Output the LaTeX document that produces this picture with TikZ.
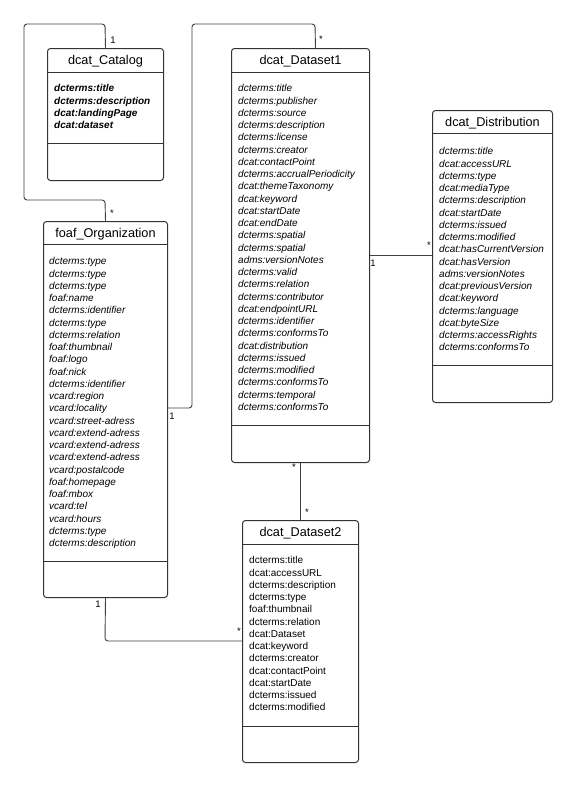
\documentclass[tikz,border=0pt]{standalone}
\usepackage{fontspec}
\setmainfont{Liberation Sans}
\usetikzlibrary{positioning,calc}

\begin{document}
\begin{tikzpicture}[x=1pt, y=-1pt,
	classbox/.style={draw=black!80, line width=1pt, rounded corners=3pt, anchor=north west, inner sep=0pt},
	classline/.style={draw=black!80, line width=1pt},
	classtitle/.style={font=\fontsize{12.7}{15}\selectfont, anchor=base, inner sep=0pt},
	attrs/.style={font=\fontsize{10}{12.25}\selectfont\itshape, align=left, anchor=north west, inner sep=0pt},
	mult/.style={font=\fontsize{9.5}{10}\selectfont, inner sep=0pt},
	link/.style={draw=black!75, line width=0.9pt, rounded corners=3pt}]

	\fill[white] (0,0) rectangle (582,787);
	\useasboundingbox (0,0) rectangle (582,787);

	% classes
	\node[classbox, minimum width=116, minimum height=132] (catalog) at (47,48) {};
	\draw[classline] ($(catalog.north west)+(0,24)$) -- ($(catalog.north east)+(0,24)$);
	\draw[classline] (47,143) -- (163,143);
	\node[classtitle] (catalogname) at ($(catalog.north)+(0,16.5)$) {dcat\_Catalog};
	\node[attrs, font=\fontsize{10}{12.25}\selectfont\itshape\bfseries] (catalogattrs) at (54,84.5) {dcterms:title\\dcterms:description\\dcat:landingPage\\dcat:dataset};

	\node[classbox, minimum width=138, minimum height=414] (dataset1) at (231,48) {};
	\draw[classline] ($(dataset1.north west)+(0,24)$) -- ($(dataset1.north east)+(0,24)$);
	\draw[classline] (231,425) -- (369,425);
	\node[classtitle] (dataset1name) at ($(dataset1.north)+(0,16.5)$) {dcat\_Dataset1};
	\node[attrs] (dataset1attrs) at (238,84.5) {dcterms:title\\dcterms:publisher\\dcterms:source\\dcterms:description\\dcterms:license\\dcterms:creator\\dcat:contactPoint\\dcterms:accrualPeriodicity\\dcat:themeTaxonomy\\dcat:keyword\\dcat:startDate\\dcat:endDate\\dcterms:spatial\\dcterms:spatial\\adms:versionNotes\\dcterms:valid\\dcterms:relation\\dcterms:contributor\\dcat:endpointURL\\dcterms:identifier\\dcterms:conformsTo\\dcat:distribution\\dcterms:issued\\dcterms:modified\\dcterms:conformsTo\\dcterms:temporal\\dcterms:conformsTo};

	\node[classbox, minimum width=124, minimum height=376] (org) at (43,221) {};
	\draw[classline] ($(org.north west)+(0,23)$) -- ($(org.north east)+(0,23)$);
	\draw[classline] (43,561) -- (167,561);
	\node[classtitle] (orgname) at ($(org.north)+(0,16)$) {foaf\_Organization};
	\node[attrs] (orgattrs) at (49,257.5) {dcterms:type\\dcterms:type\\dcterms:type\\foaf:name\\dcterms:identifier\\dcterms:type\\dcterms:relation\\foaf:thumbnail\\foaf:logo\\foaf:nick\\dcterms:identifier\\vcard:region\\vcard:locality\\vcard:street-adress\\vcard:extend-adress\\vcard:extend-adress\\vcard:extend-adress\\vcard:postalcode\\foaf:homepage\\foaf:mbox\\vcard:tel\\vcard:hours\\dcterms:type\\dcterms:description};

	\node[classbox, minimum width=120, minimum height=292] (distribution) at (432,110) {};
	\draw[classline] ($(distribution.north west)+(0,23)$) -- ($(distribution.north east)+(0,23)$);
	\draw[classline] (432,365) -- (552,365);
	\node[classtitle] (distributionname) at ($(distribution.north)+(0,16)$) {dcat\_Distribution};
	\node[attrs] (distributionattrs) at (439,147.5) {dcterms:title\\dcat:accessURL\\dcterms:type\\dcat:mediaType\\dcterms:description\\dcat:startDate\\dcterms:issued\\dcterms:modified\\dcat:hasCurrentVersion\\dcat:hasVersion\\adms:versionNotes\\dcat:previousVersion\\dcat:keyword\\dcterms:language\\dcat:byteSize\\dcterms:accessRights\\dcterms:conformsTo};

	\node[classbox, minimum width=116, minimum height=242] (dataset2) at (242,520) {};
	\draw[classline] ($(dataset2.north west)+(0,24)$) -- ($(dataset2.north east)+(0,24)$);
	\draw[classline] (242,726) -- (358,726);
	\node[classtitle] (dataset2name) at ($(dataset2.north)+(0,16.5)$) {dcat\_Dataset2};
	\node[attrs, font=\fontsize{10}{12.25}\selectfont] (dataset2attrs) at (249,556.5) {dcterms:title\\dcat:accessURL\\dcterms:description\\dcterms:type\\foaf:thumbnail\\dcterms:relation\\dcat:Dataset\\dcat:keyword\\dcterms:creator\\dcat:contactPoint\\dcat:startDate\\dcterms:issued\\dcterms:modified};

	% associations
	\draw[link] (catalog.north) -- (105,24) -- (24,24) -- (24,200) -- (105,200) -- (org.north);
	\draw[link] ($(dataset1.north)+(15,0)$) -- (315,24) -- (192,24) -- (192,408) -- (org.east |- 0,408);
	\draw[link] (dataset1.east |- 0,255) -- (distribution.west |- 0,255);
	\draw[link] (dataset1.south) -- (dataset2.north);
	\draw[link] (org.south) -- (105,641) -- (dataset2.west |- 0,641);

	% multiplicities
	\node[mult] (m1) at (113,40) {1};
	\node[mult] (m2) at (112,213) {*};
	\node[mult] (m3) at (321,39) {*};
	\node[mult] (m4) at (172,416) {1};
	\node[mult] (m5) at (373,263) {1};
	\node[mult] (m6) at (429,245) {*};
	\node[mult] (m7) at (294,467) {*};
	\node[mult] (m8) at (307,512) {*};
	\node[mult] (m9) at (98,604) {1};
	\node[mult] (m10) at (239,631) {*};
\end{tikzpicture}
\end{document}
